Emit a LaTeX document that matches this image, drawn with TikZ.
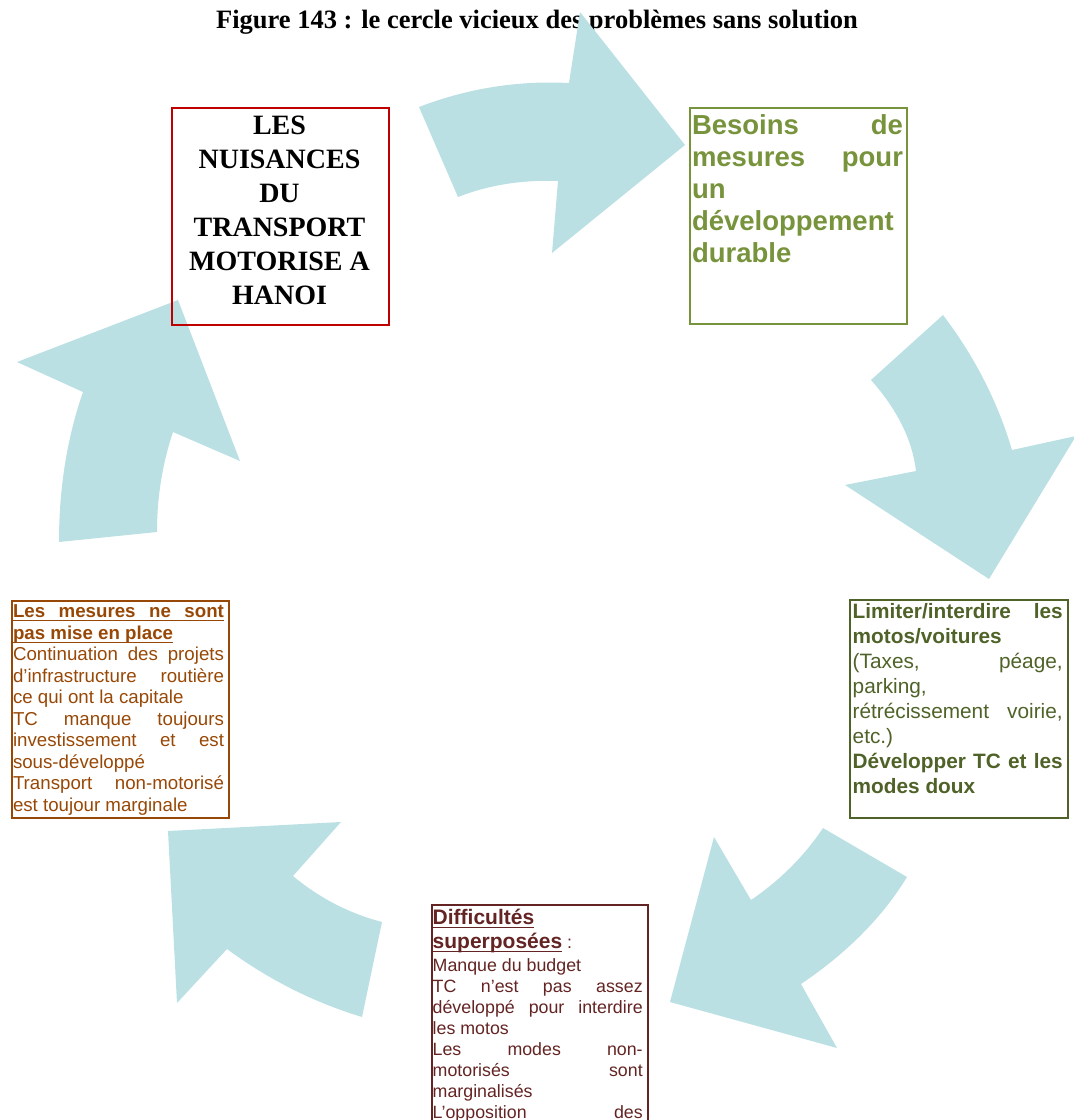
\documentclass[tikz,border=0pt]{standalone}
\usepackage{fontspec}
\usetikzlibrary{calc}
\setmainfont{Liberation Serif}
\newfontfamily\arialf{Liberation Sans}
\definecolor{arrowc}{HTML}{BBE0E3}
\definecolor{redc}{HTML}{C00000}
\definecolor{greenc}{HTML}{77933C}
\definecolor{brownc}{HTML}{984806}
\definecolor{dgreenc}{HTML}{4F6228}
\definecolor{maroonc}{HTML}{632423}
\hbadness=10000
\hfuzz=20pt
\newcommand\sr{\vrule height.7\baselineskip depth.3\baselineskip width0pt}
\newcommand\jline[1]{\hbox to\hsize{\sr #1}}
\newcommand\lline[1]{\hbox to\hsize{\sr #1\hfil}}
\newcommand\cenline[1]{\hbox to\hsize{\hfil\sr #1\hfil}}
\newcommand\ulword[1]{\setbox0\hbox{#1}\rlap{\rule[-3.6pt]{\wd0}{1.3pt}}\box0}
\newcommand\ulfull{\rlap{\rule[-3.6pt]{\hsize}{1.3pt}}}
% quadratic curve from #1 with control #2 to #3
\newcommand\qc[3]{.. controls ($#1!2/3!#2$) and ($#3!2/3!#2$) .. #3}
\tikzset{
  boxst/.style={anchor=north west, inner sep=0pt, line width=1.5pt},
  txtst/.style={anchor=north west, inner sep=0pt, outer sep=0pt},
  arr/.style={fill=arrowc, draw=none}
}
\begin{document}
\begin{tikzpicture}[x=1pt,y=-1pt]
\useasboundingbox (0,0) rectangle (1074,1120);
\clip (0,0) rectangle (1074,1120);
% title
\node[anchor=base, inner sep=0pt, font=\bfseries\fontsize{26.5}{30}\selectfont] (title) at (537,28)
  {Figure 143 : le cercle vicieux des problèmes sans solution};
% arrows
\fill[arr] (419,107) \qc{(419,107)}{(492,79)}{(569,83)}
  -- (580,12) -- (685,145) -- (552,253) -- (558,181)
  \qc{(558,181)}{(504,179)}{(458,197)} -- cycle;
\fill[arr] (943,315) \qc{(943,315)}{(990.5,377.5)}{(1012,450)}
  -- (1076,436) -- (989,579) -- (845,485) -- (916,471)
  \qc{(916,471)}{(910.5,424.5)}{(871,380)} -- cycle;
\fill[arr] (907,877) \qc{(907,877)}{(870,937.5)}{(801,984)}
  -- (837,1048) -- (670,1002) -- (714,837) -- (751,900)
  \qc{(751,900)}{(795,870)}{(823,828)} -- cycle;
\fill[arr] (362,1017) \qc{(362,1017)}{(289.5,995)}{(227,949)}
  -- (177,1003) -- (168,831) -- (341,822) -- (293,876)
  \qc{(293,876)}{(332.5,909)}{(382,922)} -- cycle;
\fill[arr] (59,542) \qc{(59,542)}{(59,461)}{(83,392)}
  -- (17,362) -- (178,300) -- (240,461) -- (173,432)
  \qc{(173,432)}{(157,480)}{(157,532)} -- cycle;
% boxes
\node[boxst, draw=redc, minimum width=217pt, minimum height=217pt] (nuis) at (171,107) {};
\node[boxst, draw=greenc, minimum width=217pt, minimum height=216pt] (bes) at (689,107) {};
\node[boxst, draw=brownc, minimum width=217pt, minimum height=217pt] (mes) at (11,600) {};
\node[boxst, draw=dgreenc, minimum width=218pt, minimum height=218pt] (lim) at (849,599) {};
\node[boxst, draw=maroonc, minimum width=216pt, minimum height=236pt] (diff) at (431,904) {};
% texts
\node[txtst] (tnuis) at (171,110.5) {\vbox{\hsize=217pt\lineskiplimit=-\maxdimen
  \bfseries\fontsize{28}{34}\selectfont
  \cenline{LES}\cenline{NUISANCES}\cenline{DU}\cenline{TRANSPORT}\cenline{MOTORISE A}\cenline{HANOI}}};
\node[txtst, text=greenc] (tbes) at (692,111.9) {\vbox{\hsize=211pt\lineskiplimit=-\maxdimen
  \arialf\bfseries\fontsize{27.5}{32}\selectfont
  \jline{Besoins de}\jline{mesures pour}\lline{un}\lline{développement}\lline{durable}}};
\node[txtst, text=brownc] (tmes) at (13,602.7) {\vbox{\hsize=211pt\lineskiplimit=-\maxdimen
  \arialf\fontsize{18.7}{21.5}\selectfont
  \jline{\bfseries\ulfull Les mesures ne sont}
  \lline{\bfseries\ulword{pas mise en place}}
  \jline{Continuation des projets}
  \jline{d’infrastructure routière}
  \lline{ce qui ont la capitale}
  \jline{TC manque toujours}
  \jline{investissement et est}
  \lline{sous-développé}
  \jline{Transport non-motorisé}
  \lline{est toujour marginale}}};
\node[txtst, text=dgreenc] (tlim) at (852.7,600.8) {\vbox{\hsize=210pt\lineskiplimit=-\maxdimen
  \arialf\fontsize{20.8}{25}\selectfont
  \jline{\bfseries Limiter/interdire les}
  \lline{\bfseries motos/voitures}
  \jline{(Taxes, péage,}
  \lline{parking,}
  \jline{rétrécissement voirie,}
  \lline{etc.)}
  \jline{\bfseries Développer TC et les}
  \lline{\bfseries modes doux}}};
\node[txtst, text=maroonc] (tdiff) at (432.7,907.5) {\vbox{\hsize=210pt\lineskiplimit=-\maxdimen
  \arialf\bfseries\fontsize{21}{24}\selectfont
  \lline{\ulword{Difficultés}}
  \lline{\ulword{superposées}{\mdseries\fontsize{17.8}{21}\selectfont\ :}}
  \mdseries\fontsize{17.8}{23}\selectfont
  \lline{Manque du budget}
  \baselineskip=21pt
  \jline{TC n’est pas assez}
  \jline{développé pour interdire}
  \lline{les motos}
  \jline{Les modes non-}
  \jline{motorisés sont}
  \lline{marginalisés}
  \jline{L’opposition des}}};
\end{tikzpicture}
\end{document}
